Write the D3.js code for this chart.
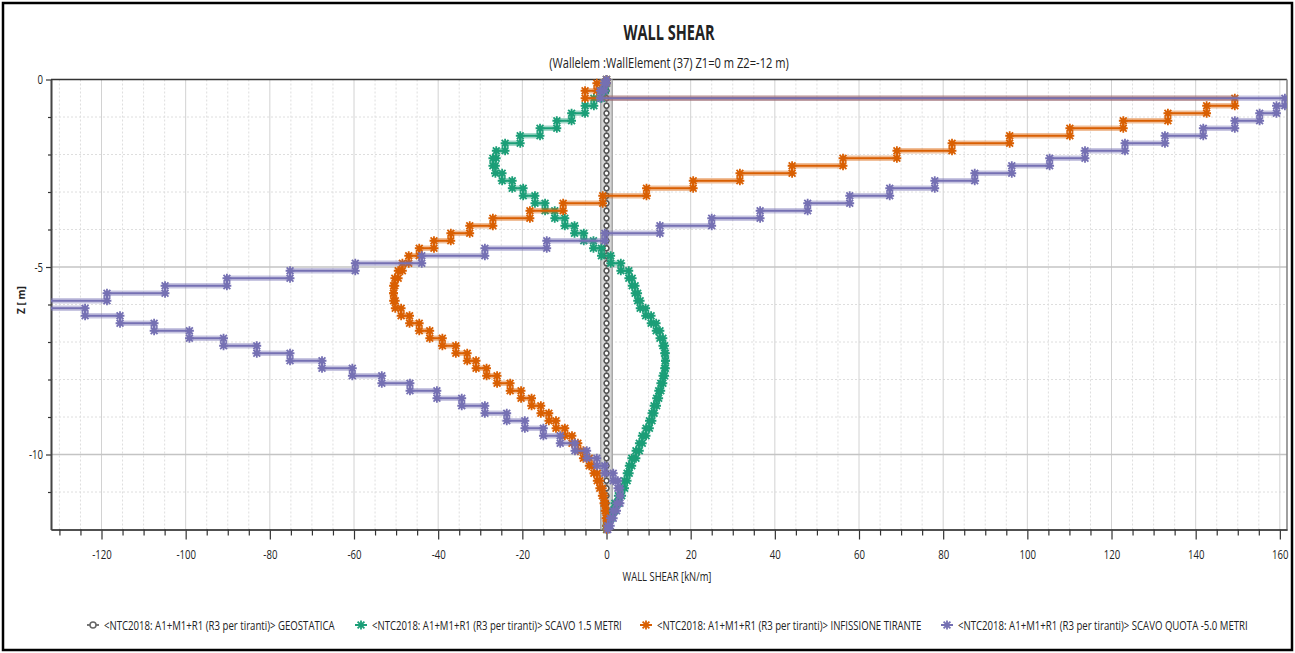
<!DOCTYPE html>
<html>
<head>
<meta charset="utf-8">
<script src="https://cdn.jsdelivr.net/npm/d3@7"></script>
<style>
body { margin: 0; background: #fff; }
text { font-family: "Open Sans", sans-serif; fill: #222; }
</style>
</head>
<body>
<div class="chart"></div>
<script>
var width = 1295,
    height = 653;

// wall nodes, depth in m (the element between two nodes has one shear value)
const depthNodes = [0, 0.1, 0.3, 0.5, 0.7, 0.9, 1.1, 1.3, 1.5, 1.7, 1.9, 2.1, 2.3, 2.5, 2.7, 2.9,
    3.1, 3.3, 3.5, 3.7, 3.9, 4.1, 4.3, 4.5, 4.7, 4.9, 5.1, 5.3, 5.5, 5.7, 5.9, 6.1, 6.3, 6.5, 6.7,
    6.9, 7.1, 7.3, 7.5, 7.7, 7.9, 8.1, 8.3, 8.5, 8.7, 8.9, 9.1, 9.3, 9.5, 9.7, 9.9, 10.1, 10.3,
    10.5, 10.7, 10.9, 11.1, 11.3, 11.5, 11.7, 11.9, 12];

// shear per element, kN/m
const shearGeostatica = [0, 0, 0, 0, 0, 0, 0, 0, 0, 0, 0, 0, 0, 0, 0, 0, 0, 0, 0, 0,
    0, 0, 0, 0, 0, 0, 0, 0, 0, 0, 0, 0, 0, 0, 0, 0, 0, 0, 0, 0,
    0, 0, 0, 0, 0, 0, 0, 0, 0, 0, 0, 0, 0, 0, 0, 0, 0, 0, 0, 0, 0];

const shearScavo15 = [0, -0.3, -1.2, -3.0, -5.1, -8.3, -11.8, -15.8, -20.5, -24.1,
    -26.2, -27.0, -26.4, -24.8, -22.4, -19.8, -17.0, -14.6, -12.3, -9.9,
    -7.6, -5.4, -3.1, -1.2, 1.0, 3.4, 5.3, 6.1, 6.8, 7.4,
    8.0, 9.3, 10.6, 11.8, 12.7, 13.4, 13.8, 14.0, 14.0, 13.8,
    13.4, 12.9, 12.4, 11.9, 11.3, 10.8, 10.2, 9.4, 8.5, 7.8,
    7.0, 6.0, 5.4, 4.9, 4.3, 3.6, 2.8, 2.0, 1.1, 0.3, 0];

const shearInfissione = [0, -2.3, -5.1, 149.3, 142.6, 133.4, 122.8, 110.1, 95.8, 82.1,
    69.0, 56.2, 44.1, 31.7, 20.6, 9.5, -0.9, -10.3, -18.2, -27.0,
    -32.5, -37.0, -41.0, -44.5, -47.0, -48.5, -49.5, -50.3, -50.6, -50.6,
    -50.2, -48.8, -46.8, -44.5, -42.0, -39.0, -35.8, -33.1, -31.0, -28.5,
    -26.0, -22.9, -20.3, -17.8, -15.6, -13.7, -12.0, -9.9, -8.2, -6.8,
    -5.5, -4.1, -3.0, -2.2, -1.6, -1.0, -0.6, -0.3, -0.1, 0.1, 0.1];

const shearScavoQuota5 = [0, -0.5, -1.5, 161.2, 159.2, 155.2, 149.3, 141.8, 132.7, 123.2,
    113.7, 105.3, 96.3, 87.5, 78.0, 67.3, 57.8, 47.8, 36.5, 25.0,
    12.7, -0.4, -14.2, -28.9, -43.9, -59.7, -75.2, -90.2, -104.9, -118.7,
    -140, -123.9, -115.6, -107.5, -99.1, -91.0, -83.1, -75.2, -67.6, -60.4,
    -53.4, -46.7, -40.3, -34.4, -28.9, -23.7, -19.4, -15.0, -11.0, -7.5,
    -4.7, -2.3, -0.4, 1.6, 2.7, 3.2, 3.2, 2.4, 1.6, 0.9, 0.3];

const seriesNames = [
    "<NTC2018: A1+M1+R1 (R3 per tiranti)> GEOSTATICA",
    "<NTC2018: A1+M1+R1 (R3 per tiranti)> SCAVO 1.5 METRI",
    "<NTC2018: A1+M1+R1 (R3 per tiranti)> INFISSIONE TIRANTE",
    "<NTC2018: A1+M1+R1 (R3 per tiranti)> SCAVO QUOTA -5.0 METRI"
];
const seriesColors = ["#6e6e6e", "#1b9e77", "#d95f02", "#7570b3"];

const xTicks = [-120, -100, -80, -60, -40, -20, 0, 20, 40, 60, 80, 100, 120, 140, 160];
const yTicks = [0, -5, -10];

const plotLeft = 51, plotRight = 1287, plotTop = 79.5, plotBottom = 529.5;

function stepPoints(vals) {
    let pts = [];
    vals.forEach(function(v, i) {
        pts.push([v, -depthNodes[i]]);
        pts.push([v, -depthNodes[i + 1]]);
    });
    return pts;
}

// the original uses a narrow font: scale text horizontally around its anchor
function narrow(sel, k, target) {
    sel.each(function() {
        let t = d3.select(this);
        let f = target ? target / this.getComputedTextLength() : k;
        let tx = +t.attr("x") || 0, ty = +t.attr("y") || 0;
        let pre = t.attr("data-pre") || "";
        t.attr("x", 0).attr("y", 0)
            .attr("transform", `translate(${tx}, ${ty}) ${pre} scale(${f}, 1)`);
    });
}

let svg = d3.select(".chart")
    .append("svg")
    .attr("width", width)
    .attr("height", height);

svg.append("rect")
    .attr("x", 3).attr("y", 3)
    .attr("width", width - 6).attr("height", height - 6)
    .attr("fill", "#fff")
    .attr("stroke", "#000")
    .attr("stroke-width", 2.5);

let x = d3.scaleLinear().domain([-132, 161.7]).range([plotLeft, plotRight]);
let y = d3.scaleLinear().domain([-12, 0]).range([plotBottom, plotTop]);

let xMinor = d3.range(-130, 161, 5).filter(d => d % 20 !== 0);
let yMinor = d3.range(-11, 0, 1).filter(d => d % 5 !== 0);

// grid
let grid = svg.append("g");
grid.selectAll(".vminor").data(xMinor).join("line")
    .attr("x1", d => x(d)).attr("x2", d => x(d))
    .attr("y1", plotTop).attr("y2", plotBottom)
    .attr("stroke", "#dedede").attr("stroke-dasharray", "2,2");
grid.selectAll(".hminor").data(yMinor).join("line")
    .attr("y1", d => y(d)).attr("y2", d => y(d))
    .attr("x1", plotLeft).attr("x2", plotRight)
    .attr("stroke", "#dedede").attr("stroke-dasharray", "2,2");
grid.selectAll(".vmajor").data(xTicks).join("line")
    .attr("x1", d => x(d)).attr("x2", d => x(d))
    .attr("y1", plotTop).attr("y2", plotBottom)
    .attr("stroke", "#d2d2d2");
grid.selectAll(".hmajor").data([-5, -10]).join("line")
    .attr("y1", d => y(d)).attr("y2", d => y(d))
    .attr("x1", plotLeft).attr("x2", plotRight)
    .attr("stroke", "#c4c4c4").attr("stroke-width", 1.3);

// frame
svg.append("line").attr("x1", plotLeft).attr("x2", plotRight).attr("y1", plotTop).attr("y2", plotTop)
    .attr("stroke", "#333").attr("stroke-width", 1.6);
svg.append("line").attr("x1", plotRight).attr("x2", plotRight).attr("y1", plotTop).attr("y2", plotBottom)
    .attr("stroke", "#888").attr("stroke-width", 1.6);

// axes
let xAxis = svg.append("g")
    .attr("transform", `translate(0, ${plotBottom})`)
    .call(d3.axisBottom(x).tickValues(xTicks).tickSize(10).tickPadding(10).tickSizeOuter(0));
svg.append("g")
    .attr("transform", `translate(0, ${plotBottom})`)
    .call(d3.axisBottom(x).tickValues(xMinor).tickSize(6).tickFormat("").tickSizeOuter(0));
let yAxis = svg.append("g")
    .attr("transform", `translate(${plotLeft}, 0)`)
    .call(d3.axisLeft(y).tickValues(yTicks).tickSize(5).tickPadding(3).tickSizeOuter(0));
svg.append("g")
    .attr("transform", `translate(${plotLeft}, 0)`)
    .call(d3.axisLeft(y).tickValues(yMinor).tickSize(3).tickFormat("").tickSizeOuter(0));

svg.selectAll(".domain").attr("stroke", "#444").attr("stroke-width", 1.6);
svg.selectAll(".tick line").attr("stroke", "#333").attr("stroke-width", 1.2);
xAxis.selectAll("text").style("font-size", "13px").style("font-family", "Open Sans, sans-serif").attr("fill", "#222")
    .text(d => d < 0 ? "-" + Math.abs(d) : d);
yAxis.selectAll("text").style("font-size", "13px").style("font-family", "Open Sans, sans-serif").attr("fill", "#222")
    .text(d => d < 0 ? "-" + Math.abs(d) : d);
narrow(xAxis.selectAll("text"), 0.74);
narrow(yAxis.selectAll("text"), 0.74);

// titles
svg.append("text")
    .attr("x", 669).attr("y", 40)
    .attr("text-anchor", "middle")
    .style("font-size", "22px").style("font-weight", "bold")
    .text("WALL SHEAR")
    .call(narrow, 1, 91);
svg.append("text")
    .attr("x", 669).attr("y", 68)
    .attr("text-anchor", "middle")
    .style("font-size", "14px")
    .text("(Wallelem :WallElement (37) Z1=0 m Z2=-12 m)")
    .call(narrow, 1, 240);
svg.append("text")
    .attr("x", 667).attr("y", 581)
    .attr("text-anchor", "middle")
    .style("font-size", "12.5px")
    .text("WALL SHEAR [kN/m]")
    .call(narrow, 1, 89);
svg.append("text")
    .attr("x", 25).attr("y", 300)
    .attr("data-pre", "rotate(-90)")
    .attr("text-anchor", "middle")
    .style("font-size", "11px").style("font-weight", "bold")
    .text("Z [ m]")
    .call(narrow, 1, 28);

// series
svg.append("clipPath").attr("id", "plotclip")
    .append("rect")
    .attr("x", plotLeft).attr("y", plotTop - 7)
    .attr("width", plotRight - plotLeft).attr("height", plotBottom - plotTop + 14);

let plot = svg.append("g").attr("clip-path", "url(#plotclip)");

let line = d3.line().x(d => x(d[0])).y(d => y(d[1]));

let series = [shearGeostatica, shearScavo15, shearInfissione, shearScavoQuota5].map(function(vals, i) {
    return {name: seriesNames[i], color: seriesColors[i], points: stepPoints(vals)};
});

let s = 3.4;
let starPath = `M${-s},${-s}L${s},${s}M${-s},${s}L${s},${-s}M0,${-s * 1.3}L0,${s * 1.3}M${-s * 1.3},0L${s * 1.3},0`;

series.forEach(function(ser, i) {
    let g = plot.append("g");
    if (i === 0) {
        g.append("path").attr("d", line(ser.points))
            .attr("fill", "none").attr("stroke", "#a8a8a8").attr("stroke-width", 13);
        g.append("path").attr("d", line(ser.points))
            .attr("fill", "none").attr("stroke", "#d4d4d4").attr("stroke-width", 10);
        g.append("path").attr("d", line(ser.points))
            .attr("fill", "none").attr("stroke", "#777").attr("stroke-width", 2);
        g.selectAll("circle").data(ser.points).join("circle")
            .attr("cx", d => x(d[0])).attr("cy", d => y(d[1]))
            .attr("r", 2.3)
            .attr("fill", "#fff").attr("stroke", "#555").attr("stroke-width", 1.3);
        return;
    }
    g.append("path").attr("d", line(ser.points))
        .attr("fill", "none").attr("stroke", ser.color).attr("stroke-opacity", 0.4)
        .attr("stroke-width", 5.5).attr("stroke-linejoin", "round");
    g.append("path").attr("d", line(ser.points))
        .attr("fill", "none").attr("stroke", ser.color)
        .attr("stroke-width", 2.2).attr("stroke-linejoin", "round");
    g.selectAll(".mk").data(ser.points).join("path")
        .attr("transform", d => `translate(${x(d[0])}, ${y(d[1])})`)
        .attr("d", starPath)
        .attr("fill", "none").attr("stroke", ser.color).attr("stroke-width", 1.8);
});

// legend
const legendMarkX = [93, 361, 646, 947];
const legendTextLen = [231, 250, 265, 290];
let legend = svg.append("g");
series.forEach(function(ser, i) {
    let lx = legendMarkX[i], ly = 625;
    legend.append("line")
        .attr("x1", lx - 6).attr("x2", lx + 6).attr("y1", ly).attr("y2", ly)
        .attr("stroke", i === 0 ? "#777" : ser.color).attr("stroke-width", 2);
    if (i === 0) {
        legend.append("circle").attr("cx", lx).attr("cy", ly).attr("r", 3)
            .attr("fill", "#fff").attr("stroke", "#666").attr("stroke-width", 1.5);
    } else {
        legend.append("path").attr("transform", `translate(${lx}, ${ly})`)
            .attr("d", starPath).attr("fill", "none")
            .attr("stroke", ser.color).attr("stroke-width", 1.8);
    }
    legend.append("text")
        .attr("x", lx + 11).attr("y", ly + 4.5)
        .style("font-size", "12.5px")
        .text(ser.name)
        .call(narrow, 1, legendTextLen[i]);
});
</script>
</body>
</html>
